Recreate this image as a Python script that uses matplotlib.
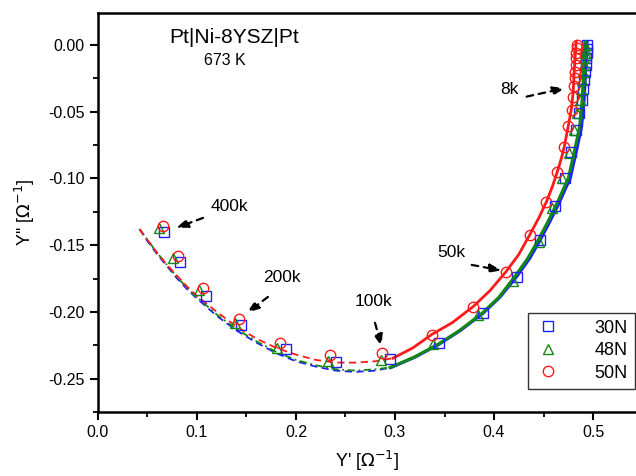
import matplotlib
matplotlib.use("Agg")
import matplotlib.pyplot as plt
from matplotlib.ticker import MultipleLocator

plt.rcParams['font.family'] = ['Liberation Sans', 'DejaVu Sans']

# measured admittance, 30N / 48N / 50N samples
x_30N = [0.067, 0.083, 0.109, 0.144, 0.190, 0.240, 0.295, 0.344, 0.389, 0.423, 0.446, 0.462, 0.472,
         0.478, 0.483, 0.486, 0.489, 0.490, 0.491, 0.492, 0.493, 0.493, 0.494, 0.494, 0.494]
y_30N = [-0.140, -0.163, -0.188, -0.210, -0.228, -0.2377, -0.2355, -0.223, -0.201, -0.1735, -0.146, -0.121, -0.0996,
         -0.080, -0.064, -0.051, -0.041, -0.033, -0.026, -0.020, -0.015, -0.010, -0.006, -0.003, 0.000]

x_48N = [0.062, 0.076, 0.102, 0.138, 0.181, 0.232, 0.286, 0.338, 0.384, 0.419, 0.445, 0.459, 0.469,
         0.476, 0.481, 0.484, 0.487, 0.488, 0.489, 0.490, 0.491, 0.491, 0.492, 0.492, 0.492]
y_48N = [-0.137, -0.160, -0.1835, -0.208, -0.2267, -0.237, -0.236, -0.224, -0.202, -0.1765, -0.1473, -0.122, -0.100,
         -0.081, -0.064, -0.051, -0.041, -0.033, -0.026, -0.020, -0.015, -0.010, -0.006, -0.003, 0.000]

x_50N = [0.066, 0.081, 0.106, 0.142, 0.184, 0.234, 0.287, 0.337, 0.379, 0.412, 0.436, 0.453, 0.464,
         0.471, 0.475, 0.479, 0.480, 0.481, 0.482, 0.482, 0.483, 0.483, 0.483, 0.484, 0.484]
y_50N = [-0.136, -0.1585, -0.182, -0.205, -0.223, -0.232, -0.2305, -0.217, -0.196, -0.170, -0.1423, -0.1174, -0.0949,
         -0.0762, -0.0607, -0.0487, -0.0387, -0.0307, -0.025, -0.020, -0.015, -0.010, -0.006, -0.0025, 0.000]

# fitted curves: solid over the fitted range, dashed extrapolation to high frequency
fit_x_30N = [0.296, 0.32, 0.344, 0.366, 0.389, 0.406, 0.423, 0.436, 0.446, 0.456, 0.466, 0.472,
             0.477, 0.4835, 0.4885, 0.491, 0.4925, 0.494]
fit_y_30N = [-0.2417, -0.234, -0.2245, -0.214, -0.201, -0.189, -0.1735, -0.160, -0.147, -0.133, -0.118, -0.108,
             -0.100, -0.0786, -0.061, -0.041, -0.020, 0.002]
fit_x_48N = [0.295, 0.319, 0.343, 0.365, 0.388, 0.405, 0.421, 0.434, 0.444, 0.454, 0.464, 0.470,
             0.475, 0.4815, 0.4865, 0.489, 0.4905, 0.492]
fit_y_48N = fit_y_30N
fit_x_50N = [0.298, 0.318, 0.337, 0.358, 0.379, 0.396, 0.412, 0.425, 0.436, 0.445, 0.453, 0.459, 0.464,
             0.468, 0.471, 0.475, 0.478, 0.480, 0.481, 0.482, 0.483]
fit_y_50N = [-0.2347, -0.227, -0.217, -0.208, -0.196, -0.184, -0.170, -0.157, -0.1423, -0.130, -0.1174, -0.106,
             -0.0949, -0.085, -0.0762, -0.0607, -0.0487, -0.035, -0.020, -0.008, 0.002]

ext_x_30N = [0.042, 0.05, 0.06, 0.07, 0.08, 0.09, 0.10, 0.12, 0.14, 0.16, 0.18, 0.20, 0.22, 0.24, 0.26, 0.28, 0.296]
ext_y_30N = [-0.138, -0.147, -0.157, -0.166, -0.175, -0.183, -0.190, -0.203, -0.214, -0.223, -0.231, -0.237,
             -0.241, -0.244, -0.245, -0.244, -0.2417]
ext_x_48N = [0.042, 0.05, 0.06, 0.07, 0.08, 0.09, 0.10, 0.12, 0.14, 0.16, 0.18, 0.20, 0.22, 0.24, 0.26, 0.28, 0.295]
ext_y_48N = [-0.138, -0.146, -0.156, -0.165, -0.174, -0.182, -0.189, -0.202, -0.213, -0.222, -0.230, -0.236,
             -0.240, -0.243, -0.244, -0.243, -0.2417]
ext_x_50N = [0.042, 0.05, 0.06, 0.07, 0.08, 0.09, 0.10, 0.12, 0.14, 0.16, 0.18, 0.20, 0.22, 0.24, 0.26, 0.28, 0.298]
ext_y_50N = [-0.138, -0.146, -0.156, -0.165, -0.173, -0.181, -0.188, -0.200, -0.211, -0.220, -0.227, -0.232,
             -0.236, -0.238, -0.238, -0.237, -0.2347]

# frequency labels: text position, arrow tail, arrow tip
freq_labels = ['400k', '200k', '100k', '50k', '8k']
label_xy = [(0.133, -0.1213), (0.186, -0.1745), (0.278, -0.1920), (0.357, -0.1558), (0.416, -0.0337)]
arrow_tail = [(0.1061, -0.1296), (0.1717, -0.1888), (0.2798, -0.2082), (0.3775, -0.1648), (0.4330, -0.0387)]
arrow_tip = [(0.0788, -0.1371), (0.1505, -0.2007), (0.2865, -0.2260), (0.4077, -0.1690), (0.4717, -0.0324)]

blue = '#1f1fff'
green = '#118811'
red = '#ff1a1a'

fig = plt.figure(figsize=(6.36, 4.76), dpi=100)
ax = fig.add_axes([0.154, 0.1345, 0.846, 0.8392])

ax.plot(ext_x_30N, ext_y_30N, color=blue, lw=1.3, ls=(0, (4, 2.5)))
ax.plot(ext_x_48N, ext_y_48N, color=green, lw=1.3, ls=(0, (4, 2, 1, 2)))
ax.plot(ext_x_50N, ext_y_50N, color=red, lw=1.3, ls=(0, (4, 2.5)))
ax.plot(fit_x_30N, fit_y_30N, color=blue, lw=2.2)
ax.plot(fit_x_48N, fit_y_48N, color=green, lw=2.2)
ax.plot(fit_x_50N, fit_y_50N, color=red, lw=2.0)

ax.plot(x_30N, y_30N, 's', ms=6.5, mfc='none', mec=blue, mew=1.0, label='30N')
ax.plot(x_48N, y_48N, '^', ms=7.5, mfc='none', mec=green, mew=1.0, label='48N')
ax.plot(x_50N, y_50N, 'o', ms=7.5, mfc='none', mec=red, mew=1.0, label='50N')

for lab, pos, tail, tip in zip(freq_labels, label_xy, arrow_tail, arrow_tip):
    ax.text(pos[0], pos[1], lab, fontsize=12.5, ha='center', va='center')
    ax.annotate('', xy=tip, xytext=tail,
                arrowprops=dict(arrowstyle='-|>,head_length=0.7,head_width=0.25', color='black',
                                lw=1.6, ls=(0, (3, 2.5)), shrinkA=0, shrinkB=0))

ax.text(0.138, 0.0058, 'Pt|Ni-8YSZ|Pt', fontsize=15, ha='center', va='center')
ax.text(0.128, -0.0120, '673 K', fontsize=11.5, ha='center', va='center')

ax.set_xlim(0, 0.5434)
ax.set_ylim(-0.275, 0.0243)
ax.xaxis.set_major_locator(MultipleLocator(0.1))
ax.xaxis.set_minor_locator(MultipleLocator(0.05))
ax.yaxis.set_major_locator(MultipleLocator(0.05))
ax.yaxis.set_minor_locator(MultipleLocator(0.025))
ax.xaxis.set_major_formatter(matplotlib.ticker.FormatStrFormatter('%.1f'))
ax.yaxis.set_major_formatter(matplotlib.ticker.FormatStrFormatter('%.2f'))
ax.tick_params(which='major', direction='out', length=6, width=1.5, labelsize=11.5)
ax.tick_params(which='minor', direction='out', length=3.5, width=1.3)
ax.tick_params(top=False, right=False, which='both')
ax.spines['right'].set_visible(False)
for s in ['left', 'bottom', 'top']:
    ax.spines[s].set_linewidth(1.8)

ax.set_xlabel("Y' [$\\Omega^{-1}$]", fontsize=13, labelpad=6)
ax.set_ylabel("Y'' [$\\Omega^{-1}$]", fontsize=13, labelpad=8)

leg = ax.legend(loc='lower right', bbox_to_anchor=(0.998, 0.058), fontsize=13, frameon=True, fancybox=False,
                edgecolor='black', handletextpad=1.9, borderpad=0.4, labelspacing=0.3, handlelength=1.4,
                borderaxespad=0.0, markerscale=1.0)
leg.get_frame().set_linewidth(1.0)

fig.savefig('out.png', dpi=100)
